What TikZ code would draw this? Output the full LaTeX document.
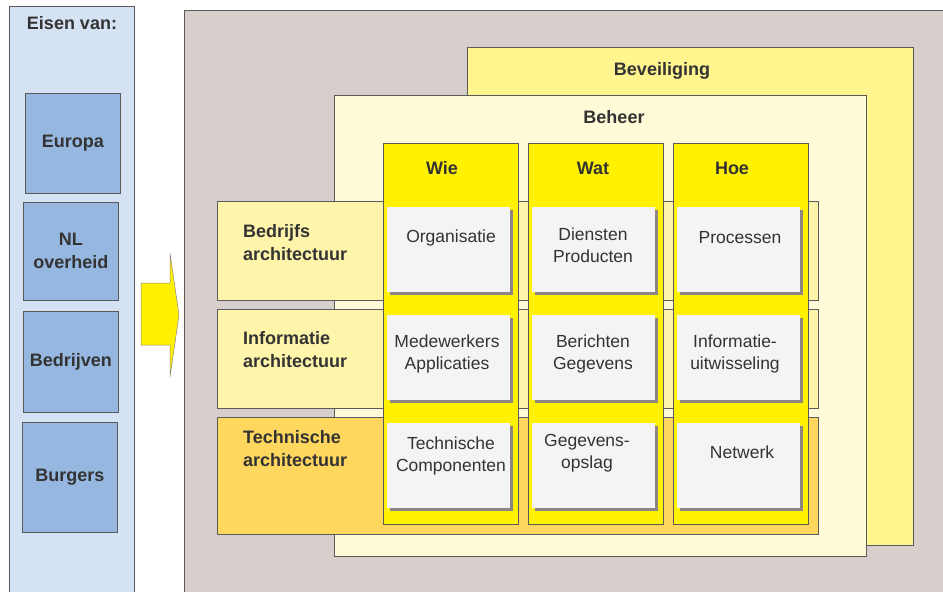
\documentclass[tikz,border=0pt]{standalone}
\usepackage{fontspec}
\setmainfont{Liberation Sans}
\usetikzlibrary{positioning}

\definecolor{eispaneel}{HTML}{D5E2F3}
\definecolor{eisblauw}{HTML}{96B7DF}
\definecolor{achtergrond}{HTML}{D6CFCC}
\definecolor{beveiligkleur}{HTML}{FFF48E}
\definecolor{beheerkleur}{HTML}{FFFBD8}
\definecolor{laagkleur}{HTML}{FFF5AA}
\definecolor{techkleur}{HTML}{FFD65E}
\definecolor{kolomgeel}{HTML}{FFF100}
\definecolor{kaartwit}{HTML}{F5F4F4}
\definecolor{schaduw}{HTML}{8C8583}
\definecolor{randgrijs}{HTML}{5A5A5A}
\definecolor{tekstgrijs}{HTML}{333333}

\begin{document}
\begin{tikzpicture}[x=1pt,y=-1pt,
    rand/.style={draw=randgrijs,line width=0.7pt},
    vlak/.style={rand,anchor=north west,inner sep=0pt},
    eisvak/.style={vlak,fill=eisblauw,minimum width=95pt,align=center,text=tekstgrijs,
        font=\bfseries\fontsize{18}{23}\selectfont},
    titel/.style={text=tekstgrijs,font=\bfseries\fontsize{18}{23}\selectfont,inner sep=0pt,yshift=-1.5pt},
    laaglabel/.style={titel,anchor=west,align=left},
    kaart/.style={anchor=north west,fill=kaartwit,inner sep=0pt,minimum width=123pt,minimum height=85pt},
    kaarttekst/.style={text=tekstgrijs,font=\fontsize{17.5}{22}\selectfont,align=center,inner sep=0pt,yshift=-1.5pt}]
    \useasboundingbox (0,0) rectangle (943,592);

    % linker paneel met eisen
    \node[vlak,fill=eispaneel,minimum width=125pt,minimum height=600pt] (eisen) at (9,6) {};
    \node[titel] (eisentitel) at (72,22) {Eisen van:};
    \node[eisvak,minimum height=100pt] (europa) at (25,93) {\raisebox{-2pt}{Europa}};
    \node[eisvak,minimum height=98pt] (overheid) at (23,202) {NL\\overheid};
    \node[eisvak,minimum height=101pt] (bedrijven) at (23,311) {\raisebox{-2pt}{Bedrijven}};
    \node[eisvak,minimum height=110pt] (burgers) at (22,422) {\raisebox{-2pt}{Burgers}};

    % pijl
    \draw[draw=schaduw,line width=0.5pt,fill=kolomgeel] (141,283) -- (170,283) -- (170,253) -- (179,315)
        -- (170,377) -- (170,345) -- (141,345) -- cycle;

    % architectuur paneel
    \node[vlak,fill=achtergrond,minimum width=770pt,minimum height=600pt] (kader) at (184,10) {};
    \node[vlak,fill=beveiligkleur,minimum width=446pt,minimum height=498pt] (beveiliging) at (467,47) {};
    \node[titel] at (662,69) {Beveiliging};
    \node[vlak,fill=beheerkleur,minimum width=532pt,minimum height=461pt] (beheer) at (334,95) {};
    \node[titel] at (614,116) {Beheer};

    % lagen
    \node[vlak,fill=laagkleur,minimum width=601pt,minimum height=99pt] (bedrijfslaag) at (217,201) {};
    \node[vlak,fill=laagkleur,minimum width=601pt,minimum height=99pt] (infolaag) at (217,309) {};
    \node[vlak,fill=techkleur,minimum width=601pt,minimum height=117pt] (techlaag) at (217,417) {};
    \node[laaglabel] (bedrijfslabel) at (243,241.5) {Bedrijfs\\architectuur};
    \node[laaglabel] (infolabel) at (243,348.5) {Informatie\\architectuur};
    \node[laaglabel] (techlabel) at (243,447.5) {Technische\\architectuur};

    % kolommen met kaarten
    \foreach \naam/\kx/\tx in {wie/383/442,wat/528/593,hoe/673/732}{
        \node[vlak,fill=kolomgeel,minimum width=135pt,minimum height=381pt] (\naam) at (\kx,143) {};
        \foreach \ky in {207,315,423}{
            \fill[schaduw] (\kx+7,\ky+3) rectangle (\kx+130,\ky+88);
            \node[kaart] at (\kx+4,\ky) {};
        }
    }
    \node[titel] at (442,167) {Wie};
    \node[titel] at (593,167) {Wat};
    \node[titel] at (732,167) {Hoe};

    % teksten in de kaarten
    \node[kaarttekst] (organisatie) at (451,236) {Organisatie};
    \node[kaarttekst] (diensten) at (593,243.5) {Diensten\\Producten};
    \node[kaarttekst] (processen) at (740,236) {Processen};
    \node[kaarttekst] (medewerkers) at (447,352) {Medewerkers\\Applicaties};
    \node[kaarttekst] (berichten) at (593,352) {Berichten\\Gegevens};
    \node[kaarttekst] (uitwisseling) at (735,352) {Informatie-\\uitwisseling};
    \node[kaarttekst] (componenten) at (451,454) {Technische\\Componenten};
    \node[kaarttekst] (opslag) at (587,452) {Gegevens-\\opslag};
    \node[kaarttekst] (netwerk) at (742,451) {Netwerk};
\end{tikzpicture}
\end{document}
